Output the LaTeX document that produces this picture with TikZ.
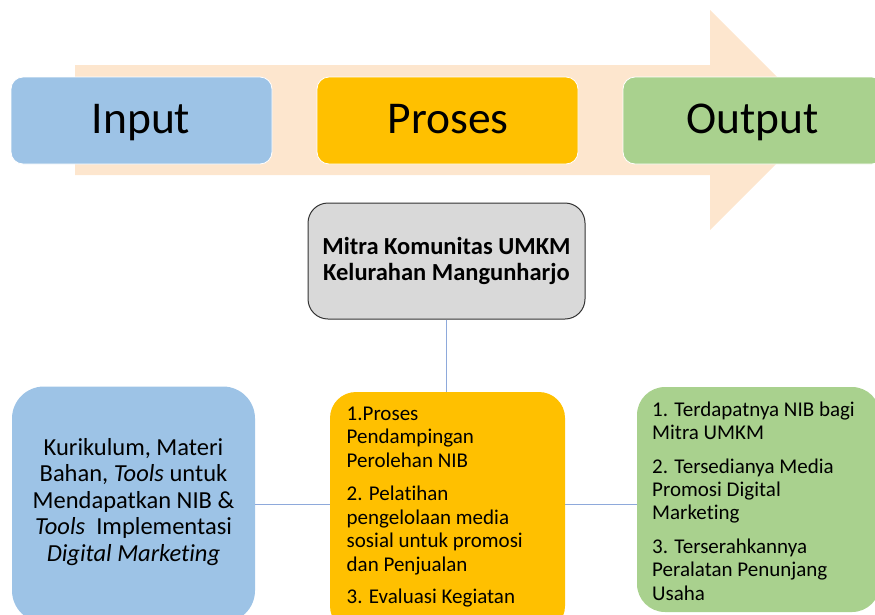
\documentclass[tikz,border=0pt]{standalone}
\usepackage{fontspec}
\setmainfont{Carlito}[Ligatures=NoCommon]
\definecolor{peach}{HTML}{FDE6CE}
\definecolor{boxblue}{HTML}{9DC3E6}
\definecolor{boxgold}{HTML}{FFC000}
\definecolor{boxgreen}{HTML}{A9D18E}
\definecolor{boxgray}{HTML}{D9D9D9}
\definecolor{conncol}{HTML}{8EA9DB}
\newcommand{\firstline}[1]{\rule{0pt}{#1}}
\tikzset{
  panel/.style={inner sep=0pt, minimum width=#1},
  topbox/.style={panel=261pt, minimum height=87pt, rounded corners=12pt, draw=white, line width=0.8pt},
  bigtext/.style={font=\fontsize{45.5}{50}\selectfont, inner sep=0pt, anchor=base},
  listtext/.style={font=\fontsize{21}{23.4}\selectfont, align=left, inner sep=0pt, anchor=north west},
  conn/.style={draw=conncol, line width=1.5pt}
}
\begin{document}
\begin{tikzpicture}[x=1pt,y=-1pt]
\useasboundingbox (0,0) rectangle (875,614);
\clip (0,0) rectangle (875,614);
% big arrow
\fill[peach] (75,65) -- (710,65) -- (710,10) -- (820,120) -- (710,230) -- (710,175) -- (75,175) -- cycle;
% top boxes
\node[topbox, fill=boxblue] (inbox) at (141.5,120.5) {};
\node[topbox, fill=boxgold] (probox) at (447.5,120.5) {};
\node[topbox, fill=boxgreen] (outbox) at (753.5,120.5) {};
\node[bigtext] (intext) at (141,133) {Input};
\node[bigtext] (protext) at (448,133) {Proses};
\node[bigtext] (outtext) at (752.5,133) {Output};
% title
\node[panel=277pt, minimum height=116pt, rounded corners=20pt, fill=boxgray, draw=black!80, line width=1pt] (title) at (446.5,261) {};
\node[font=\bfseries\fontsize{24.5}{26}\selectfont, align=center, inner sep=0pt, anchor=north] (titletext) at (446.5,234)
  {\firstline{20pt}Mitra Komunitas UMKM\\Kelurahan Mangunharjo};
% bottom boxes
\node[panel=243pt, minimum height=236pt, rounded corners=32pt, fill=boxblue] (leftbox) at (133.5,504.5) {};
\node[panel=235pt, minimum height=240pt, rounded corners=26pt, fill=boxgold] (midbox) at (447.5,512) {};
\node[panel=243pt, minimum height=225pt, rounded corners=28pt, fill=boxgreen] (rightbox) at (758.5,499.5) {};
\node[font=\fontsize{24.5}{26.5}\selectfont, align=center, inner sep=0pt, anchor=north] (lefttext) at (133.5,437)
  {\firstline{18pt}Kurikulum, Materi\\Bahan, \textit{Tools} untuk\\Mendapatkan NIB \&\\\textit{Tools}~ Implementasi\\\textit{Digital Marketing}};
\node[listtext] (midtext) at (346.5,403)
  {\firstline{17pt}1.Proses\\Pendampingan\\Perolehan NIB\\[10.5pt]2. Pelatihan\\pengelolaan media\\sosial untuk promosi\\dan Penjualan\\[9pt]3. Evaluasi Kegiatan};
\node[listtext] (righttext) at (652,399)
  {\firstline{17pt}1. Terdapatnya NIB bagi\\Mitra UMKM\\[10pt]2. Tersedianya Media\\Promosi Digital\\Marketing\\[10pt]3. Terserahkannya\\Peralatan Penunjang\\Usaha};
% connectors
\draw[conn] (title.south) -- (title.south |- midbox.north);
\draw[conn] (leftbox.east) -- (leftbox.east -| midbox.west);
\draw[conn] (leftbox.east -| midbox.east) -- (leftbox.east -| rightbox.west);
\end{tikzpicture}
\end{document}
